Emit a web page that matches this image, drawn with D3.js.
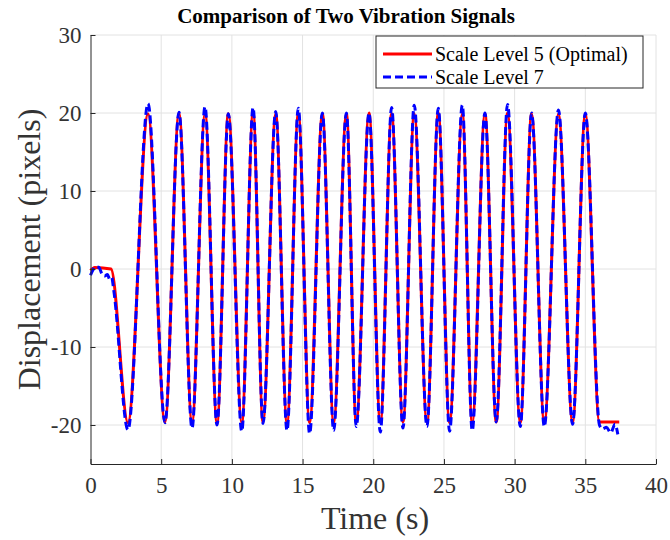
<!DOCTYPE html>
<html>
<head>
<meta charset="utf-8">
<script src="https://cdn.jsdelivr.net/npm/d3@7"></script>
<style>
  body { margin: 0; background: #fff; }
  svg { font-family: "Liberation Serif", "Times New Roman", serif; }
</style>
</head>
<body>
<svg></svg>
<script>
// extrema (seconds, pixels)
let peakTimes = [4.07, 6.26, 8.1, 9.75, 11.5, 13.1, 14.7, 16.4, 18.1, 19.7, 21.3, 22.9, 24.6, 26.3, 27.9, 29.5, 31.2, 33.1, 35.0];
let troughTimes = [2.65, 5.27, 7.18, 8.95, 10.7, 12.2, 13.9, 15.5, 17.2, 18.8, 20.5, 22.1, 23.8, 25.4, 27.0, 28.7, 30.4, 32.1, 34.1];

let redPeaks = [19.9, 20.0, 19.9, 19.9, 20.0, 19.9, 19.9, 19.9, 19.9, 20.0, 19.9, 19.9, 20.0, 19.9, 19.9, 20.0, 19.9, 19.9, 19.9];
let redTroughs = [-19.7, -19.6, -19.7, -19.7, -19.7, -19.6, -19.7, -19.7, -19.7, -19.7, -19.7, -19.6, -19.7, -19.7, -19.7, -19.6, -19.7, -19.7, -19.7];
let bluePeaks = [21.2, 20.1, 20.8, 19.9, 20.7, 20.2, 20.6, 20.0, 20.0, 20.0, 20.7, 21.0, 20.6, 21.0, 20.0, 21.1, 20.0, 20.4, 20.0];
let blueTroughs = [-20.6, -19.7, -20.4, -20.0, -20.8, -19.8, -20.7, -21.1, -20.7, -20.2, -20.9, -20.4, -20.2, -20.8, -20.7, -19.6, -20.2, -20.2, -19.9];

// quiet parts at the start and the end
let redStartT = [0, 0.3, 1.45];
let redStartV = [-0.2, 0.2, 0.0];
let redEndT = [36.0, 37.4];
let redEndV = [-19.6, -19.6];

let blueStartT = [0, 0.15, 0.35, 0.6, 0.8, 1.0, 1.2, 1.35, 1.5, 1.65];
let blueStartV = [-0.8, -0.2, 0.3, 0.2, -0.6, -0.9, -0.7, -1.3, -1.1, -2.8];
let blueEndT = [36.0, 36.2, 36.5, 36.8, 37.1, 37.3];
let blueEndV = [-20.0, -20.5, -20.3, -21.0, -19.9, -21.2];

let xTicks = [0, 5, 10, 15, 20, 25, 30, 35, 40];
let yTicks = [-20, -10, 0, 10, 20, 30];

let width = 670;
let height = 540;
let plotLeft = 90.5, plotRight = 656, plotTop = 35, plotBottom = 464;

let svg = d3.select("svg").attr("width", width).attr("height", height);

let xScale = d3.scaleLinear().domain([0, 40]).range([plotLeft, plotRight]);
let yScale = d3.scaleLinear().domain([-25, 30]).range([plotBottom, plotTop]);

let buildSeries = (startT, startV, peaks, troughs, endT, endV) => {
  let pts = startT.map((t, i) => [t, startV[i]]);
  let mid = [];
  peakTimes.forEach((t, i) => mid.push([t, peaks[i]]));
  troughTimes.forEach((t, i) => mid.push([t, troughs[i]]));
  mid.sort((a, b) => a[0] - b[0]);
  pts = pts.concat(mid);
  endT.forEach((t, i) => pts.push([t, endV[i]]));
  return pts;
};

let red = buildSeries(redStartT, redStartV, redPeaks, redTroughs, redEndT, redEndV);
let blue = buildSeries(blueStartT, blueStartV, bluePeaks, blueTroughs, blueEndT, blueEndV);

// grid
svg.append("g").selectAll("line").data(xTicks.slice(1)).enter().append("line")
  .attr("x1", d => xScale(d)).attr("x2", d => xScale(d))
  .attr("y1", plotTop).attr("y2", plotBottom)
  .attr("stroke", "#e2e2e2").attr("stroke-width", 1);
svg.append("g").selectAll("line").data(yTicks).enter().append("line")
  .attr("x1", plotLeft).attr("x2", plotRight)
  .attr("y1", d => yScale(d)).attr("y2", d => yScale(d))
  .attr("stroke", "#e2e2e2").attr("stroke-width", 1);

let line = d3.line()
  .x(d => xScale(d[0]))
  .y(d => yScale(d[1]))
  .curve(d3.curveMonotoneX);

svg.append("path").datum(red)
  .attr("d", line).attr("fill", "none")
  .attr("stroke", "#ff0000").attr("stroke-width", 3);

svg.append("path").datum(blue)
  .attr("d", line).attr("fill", "none")
  .attr("stroke", "#0000ff").attr("stroke-width", 3)
  .attr("stroke-dasharray", "8,4");

// axes
let xAxis = d3.axisBottom(xScale).tickValues(xTicks).tickSize(-5).tickSizeOuter(0).tickPadding(13).tickFormat(d => d);
let yAxis = d3.axisLeft(yScale).tickValues(yTicks).tickSize(-5).tickSizeOuter(0).tickPadding(9).tickFormat(d => d);

let gx = svg.append("g").attr("transform", "translate(0," + plotBottom + ")").call(xAxis);
let gy = svg.append("g").attr("transform", "translate(" + plotLeft + ",0)").call(yAxis);
[gx, gy].forEach(g => {
  g.select(".domain").attr("stroke", "#262626");
  g.selectAll(".tick line").attr("stroke", "#262626");
  g.selectAll(".tick text").attr("fill", "#333")
    .style("font-family", "Liberation Serif").style("font-size", "23px");
});

// labels
svg.append("text")
  .attr("x", 346).attr("y", 23)
  .attr("text-anchor", "middle")
  .style("font-size", "21px").style("font-weight", "bold")
  .text("Comparison of Two Vibration Signals");

svg.append("text")
  .attr("x", 375).attr("y", 529)
  .attr("text-anchor", "middle").attr("fill", "#333")
  .style("font-size", "32px")
  .text("Time (s)");

svg.append("text")
  .attr("transform", "translate(40," + (plotTop + plotBottom) / 2 + ") rotate(-90)")
  .attr("text-anchor", "middle").attr("fill", "#333")
  .style("font-size", "32px")
  .text("Displacement (pixels)");

// legend
let legend = svg.append("g");
legend.append("rect")
  .attr("x", 376).attr("y", 36).attr("width", 267).attr("height", 52)
  .attr("fill", "#fff").attr("stroke", "#262626").attr("stroke-width", 1);
let entries = [["Scale Level 5 (Optimal)", "#ff0000", null], ["Scale Level 7", "#0000ff", "8,4"]];
entries.forEach((e, i) => {
  let y = 54 + i * 23;
  legend.append("line")
    .attr("x1", 383).attr("x2", 432).attr("y1", y).attr("y2", y)
    .attr("stroke", e[1]).attr("stroke-width", 3)
    .attr("stroke-dasharray", e[2]);
  legend.append("text")
    .attr("x", 435).attr("y", y + 7)
    .style("font-size", "20px")
    .text(e[0]);
});
</script>
</body>
</html>
